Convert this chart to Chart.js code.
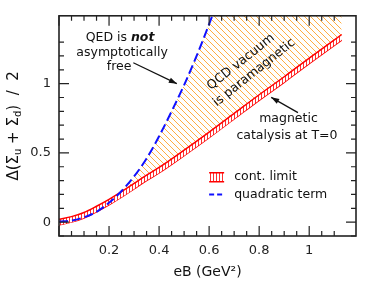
<!DOCTYPE html>
<html>
<head>
<meta charset="utf-8">
<script src="https://cdn.jsdelivr.net/npm/chart.js@4.4.1/dist/chart.umd.min.js"></script>
<style>
 body { margin: 0; background: #fff; }
</style>
</head>
<body>
<canvas id="miGrafico" width="382" height="290"></canvas>
<script>
var ctx = document.getElementById('miGrafico').getContext('2d');

// continuum limit band (lower / upper edge)
let eB = [0, 0.05, 0.1, 0.15, 0.2, 0.25, 0.3, 0.35, 0.4, 0.5, 0.6, 0.7, 0.8, 0.9, 1.0, 1.13];
let contLow = [-0.02, 0.0, 0.03, 0.075, 0.125, 0.18, 0.24, 0.3, 0.355, 0.48, 0.61, 0.745, 0.88, 1.01, 1.145, 1.315];
let contHigh = [0.02, 0.04, 0.07, 0.115, 0.165, 0.22, 0.28, 0.34, 0.395, 0.52, 0.65, 0.785, 0.92, 1.05, 1.185, 1.355];

// quadratic term
let eBQuad = [0, 0.05, 0.1, 0.15, 0.2, 0.25, 0.3, 0.35, 0.4, 0.45, 0.5, 0.55, 0.6, 0.625];
let quadTerm = [0.005, 0.012, 0.035, 0.075, 0.14, 0.225, 0.33, 0.46, 0.62, 0.8, 0.99, 1.2, 1.43, 1.55];

// top edge of the hatched (paramagnetic) area, above the frame
let eBTop = [0.7, 1.13];
let hatchTop = [1.7, 1.7];

let xTickLabels = [0.2, 0.4, 0.6, 0.8, 1];
let yTickLabels = [0, 0.5, 1];
let legendLabels = ['cont. limit', 'quadratic term'];

let fuente = 'DejaVu Sans';

function patron(w, h, pintar) {
 let c = document.createElement('canvas');
 c.width = w; c.height = h;
 pintar(c.getContext('2d'));
 return ctx.createPattern(c, 'repeat');
}

let rayasNaranja = patron(6, 6, function (g) {
 g.strokeStyle = '#ffad42';
 g.lineWidth = 1;
 for (let k = -6; k <= 6; k += 6) {
  g.beginPath(); g.moveTo(k - 1, -1); g.lineTo(k + 7, 7); g.stroke();
 }
});

let rayasRojas = patron(3, 1, function (g) {
 g.fillStyle = '#fff'; g.fillRect(0, 0, 3, 1);
 g.fillStyle = '#ff3030'; g.fillRect(0, 0, 1, 1);
});

function puntos(xs, ys) {
 return xs.map((x, i) => ({ x: x, y: ys[i] }));
}

function etiqueta(v, lista) {
 let l = lista.find(t => Math.abs(t - v) < 1e-6);
 return l === undefined ? '' : String(l);
}

function flecha(c, x1, y1, x2, y2) {
 c.beginPath(); c.moveTo(x1, y1); c.lineTo(x2, y2); c.stroke();
 let a = Math.atan2(y2 - y1, x2 - x1);
 c.beginPath();
 c.moveTo(x2, y2);
 c.lineTo(x2 - 8 * Math.cos(a) + 2.8 * Math.sin(a), y2 - 8 * Math.sin(a) - 2.8 * Math.cos(a));
 c.lineTo(x2 - 8 * Math.cos(a) - 2.8 * Math.sin(a), y2 - 8 * Math.sin(a) + 2.8 * Math.cos(a));
 c.closePath(); c.fill();
}

// frame with inward ticks on all four sides
const marco = {
 id: 'marco',
 afterDatasetsDraw(chart) {
  const c = chart.ctx, a = chart.chartArea, sx = chart.scales.x, sy = chart.scales.y;
  const esMult = (v, s) => Math.abs(v / s - Math.round(v / s)) < 1e-6;
  c.save();
  c.strokeStyle = '#222';
  c.lineWidth = 1.2;
  c.beginPath();
  sx.ticks.forEach(t => {
   if (!esMult(t.value, 0.05)) return;
   let p = sx.getPixelForValue(t.value);
   let l = esMult(t.value, 0.2) ? 10 : 5;
   c.moveTo(p, a.bottom); c.lineTo(p, a.bottom - l);
   c.moveTo(p, a.top); c.lineTo(p, a.top + l);
  });
  sy.ticks.forEach(t => {
   if (!esMult(t.value, 0.1)) return;
   let p = sy.getPixelForValue(t.value);
   let l = esMult(t.value, 0.5) ? 10 : 5;
   c.moveTo(a.left, p); c.lineTo(a.left + l, p);
   c.moveTo(a.right, p); c.lineTo(a.right - l, p);
  });
  c.stroke();
  c.lineWidth = 1.6;
  c.strokeRect(a.left, a.top, a.right - a.left, a.bottom - a.top);
  c.restore();
 },
 afterDraw(chart) {
  const c = chart.ctx, a = chart.chartArea, sx = chart.scales.x, sy = chart.scales.y;
  const P = (x, y) => [sx.getPixelForValue(x), sy.getPixelForValue(y)];
  c.save();
  c.fillStyle = '#111';
  c.strokeStyle = '#111';

  // axis titles
  c.font = '14px ' + fuente;
  c.textAlign = 'center';
  c.textBaseline = 'middle';
  c.fillText('eB (GeV²)', (a.left + a.right) / 2, 272);

  c.save();
  c.translate(18, (a.top + a.bottom) / 2);
  c.rotate(-Math.PI / 2);
  c.textAlign = 'left';
  c.textBaseline = 'alphabetic';
  let partes = [['Δ(Σ', 0, 15], ['u', 3, 10], [' + Σ', 0, 15], ['d', 3, 10], (') / 2'.length ? [')  /  2', 0, 15] : null)];
  let total = 0;
  partes.forEach(p => { c.font = p[2] + 'px ' + fuente; total += c.measureText(p[0]).width; });
  let x0 = -total / 2;
  partes.forEach(p => {
   c.font = p[2] + 'px ' + fuente;
   c.fillText(p[0], x0, p[1]);
   x0 += c.measureText(p[0]).width;
  });
  c.restore();

  // QED annotation
  c.font = '12.5px ' + fuente;
  c.textAlign = 'center';
  c.textBaseline = 'middle';
  let q = P(0.244, 1.331);
  c.font = '12.5px ' + fuente;
  let w1 = c.measureText('QED is ').width;
  c.font = 'italic bold 12.5px ' + fuente;
  let w2 = c.measureText('not').width;
  c.textAlign = 'left';
  c.font = '12.5px ' + fuente;
  c.fillText('QED is ', q[0] - (w1 + w2) / 2, q[1]);
  c.font = 'italic bold 12.5px ' + fuente;
  c.fillText('not', q[0] - (w1 + w2) / 2 + w1, q[1]);
  c.textAlign = 'center';
  c.font = '12.5px ' + fuente;
  q = P(0.252, 1.223); c.fillText('asymptotically', q[0], q[1]);
  q = P(0.24, 1.124); c.fillText('free', q[0], q[1]);
  c.lineWidth = 1.2;
  let f1 = P(0.297, 1.151), f2 = P(0.471, 1.0);
  flecha(c, f1[0], f1[1], f2[0], f2[1]);

  // paramagnetic annotation
  [['QCD vacuum', 0.727, 1.156], ['is paramagnetic', 0.78, 1.079]].forEach(n => {
   let p = P(n[1], n[2]);
   c.save();
   c.translate(p[0], p[1]);
   c.rotate(-38.5 * Math.PI / 180);
   c.fillText(n[0], 0, 0);
   c.restore();
  });

  // magnetic catalysis annotation
  q = P(0.917, 0.744); c.fillText('magnetic', q[0], q[1]);
  q = P(0.911, 0.624); c.fillText('catalysis at T=0', q[0], q[1]);
  f1 = P(0.955, 0.791); f2 = P(0.848, 0.901);
  flecha(c, f1[0], f1[1], f2[0], f2[1]);

  // legend
  let b = P(0.6, 0.325);
  c.fillStyle = rayasRojas;
  c.fillRect(b[0], b[1] - 4.5, 15, 9);
  c.strokeStyle = '#ff0000';
  c.lineWidth = 1.5;
  c.beginPath();
  c.moveTo(b[0], b[1] - 4.5); c.lineTo(b[0] + 15, b[1] - 4.5);
  c.moveTo(b[0], b[1] + 4.5); c.lineTo(b[0] + 15, b[1] + 4.5);
  c.stroke();
  let d = P(0.6, 0.199);
  c.strokeStyle = '#1010ff';
  c.lineWidth = 2;
  c.setLineDash([5, 3]);
  c.beginPath(); c.moveTo(d[0], d[1]); c.lineTo(d[0] + 14, d[1]); c.stroke();
  c.setLineDash([]);
  c.fillStyle = '#111';
  c.textAlign = 'left';
  c.fillText(legendLabels[0], b[0] + 25, b[1]);
  c.fillText(legendLabels[1], d[0] + 25, d[1]);
  c.restore();
 }
};

var chart = new Chart(ctx, {
 type: 'line',
 data: {
  datasets: [{
   label: legendLabels[1],
   data: puntos(eBQuad, quadTerm),
   borderColor: '#1010ff',
   borderWidth: 2,
   borderDash: [9, 4],
   pointRadius: 0,
   cubicInterpolationMode: 'monotone',
   fill: false
  },
  {
   label: legendLabels[0],
   data: puntos(eB, contHigh),
   borderColor: '#ff0000',
   borderWidth: 1.5,
   backgroundColor: rayasRojas,
   pointRadius: 0,
   cubicInterpolationMode: 'monotone',
   fill: '+1'
  },
  {
   label: 'low',
   data: puntos(eB, contLow),
   borderColor: '#ff0000',
   borderWidth: 1.5,
   pointRadius: 0,
   cubicInterpolationMode: 'monotone',
   fill: false
  },
  {
   label: 'hatch',
   data: puntos(eBQuad, quadTerm).concat(puntos(eBTop, hatchTop)),
   borderColor: 'rgba(0,0,0,0)',
   borderWidth: 0,
   pointRadius: 0,
   cubicInterpolationMode: 'monotone',
   fill: { target: 1, above: rayasNaranja, below: 'rgba(0,0,0,0)' }
  }]
 },
 options: {
  responsive: false,
  animation: false,
  devicePixelRatio: 1,
  layout: { padding: { top: 14, right: 26, left: 0, bottom: 0 } },
  plugins: { legend: { display: false }, tooltip: { enabled: false } },
  scales: {
   x: {
    type: 'linear', min: 0, max: 1.187,
    grid: { display: false, drawTicks: false },
    border: { display: false },
    ticks: {
     stepSize: 0.05, autoSkip: false, maxRotation: 0, padding: 7,
     color: '#222', font: { family: fuente, size: 13 },
     callback: v => etiqueta(v, xTickLabels)
    },
    afterFit: s => { s.height = 54; }
   },
   y: {
    type: 'linear', min: -0.1, max: 1.49,
    grid: { display: false, drawTicks: false },
    border: { display: false },
    ticks: {
     stepSize: 0.1, autoSkip: false, padding: 8,
     color: '#222', font: { family: fuente, size: 13 },
     callback: v => etiqueta(v, yTickLabels)
    },
    afterFit: s => { s.width = 59; }
   }
  }
 },
 plugins: [marco]
});
</script>
</body>
</html>
